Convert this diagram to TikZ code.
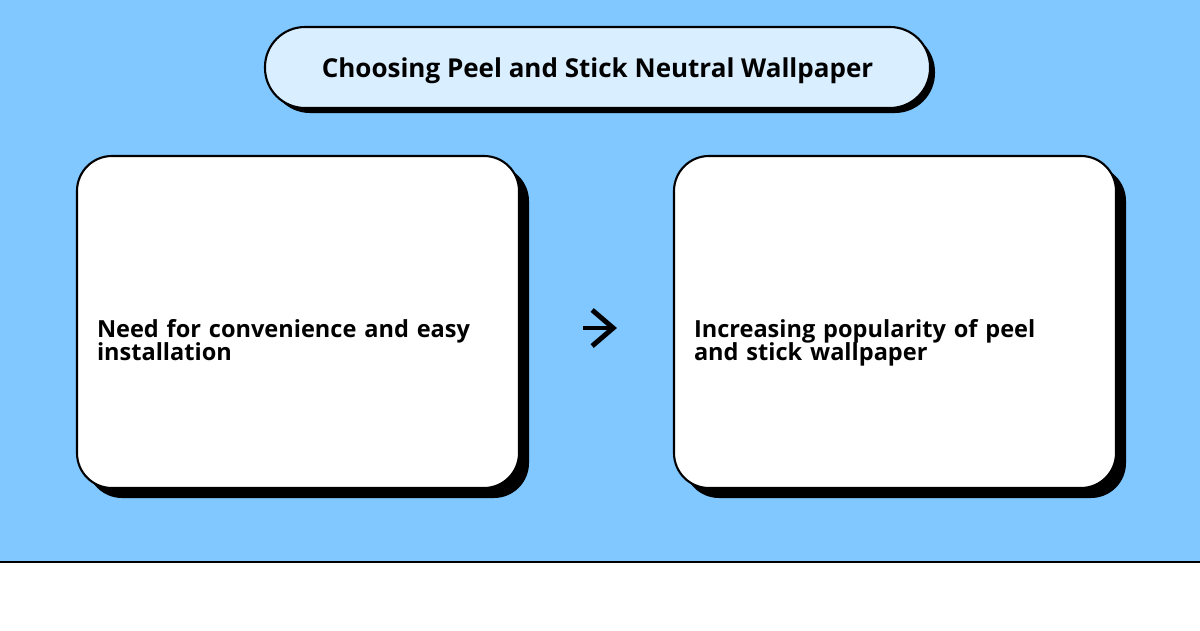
\documentclass[tikz,border=0pt]{standalone}
\usepackage{fontspec}
\setmainfont{Open Sans}
\usetikzlibrary{shadows}
\usetikzlibrary{arrows.meta}
\definecolor{skyblue}{RGB}{128,200,255}
\definecolor{paleblue}{RGB}{217,238,255}
\tikzset{%
  titlebox/.style={draw=black, line width=1.2pt, fill=paleblue, rounded corners=0.8cm,
    minimum width=13.3cm, minimum height=1.62cm, text height=1.11em, text depth=0pt,
    font=\fontsize{14.8}{15}\selectfont\bfseries,
    drop shadow={shadow xshift=0.1cm, shadow yshift=-0.1cm, fill=black, opacity=1}},
  stepbox/.style={draw=black, line width=1.2pt, fill=white, rounded corners=0.7cm,
    minimum width=8.84cm, minimum height=6.64cm, text width=8.04cm, inner xsep=0.4cm,
    text depth=0pt, align=left, font=\fontsize{13.4}{13.6}\selectfont\bfseries,
    execute at begin node={\baselineskip=13.6pt\relax\lineskiplimit=-20pt\relax
      \lineskip=0pt\relax\rule{0pt}{0.6cm}},
    drop shadow={shadow xshift=0.2cm, shadow yshift=-0.2cm, fill=black, opacity=1}},
  myedge/.style={-{Straight Barb[length=0.42cm, width=0.72cm]}, line width=2.8pt,
    shorten <=1.26cm, shorten >=1.12cm}
}

\begin{document}
\begin{tikzpicture}
\useasboundingbox (0,0) rectangle (24,12.6);

% background
\fill [skyblue] (0,1.36) rectangle (24,12.6);
\draw [line width=1.2pt] (0,1.36) -- (24,1.36);

\node [titlebox] (title) at (11.95,11.25) {Choosing Peel and Stick Neutral Wallpaper};

\node [stepbox] (need) at (5.96,6.16) {Need for convenience and easy installation};
\node [stepbox] (trend) at (17.9,6.16) {Increasing popularity of peel\\and stick wallpaper};

% arrow
\draw [myedge] ([yshift=-0.12cm]need.east) -- ([yshift=-0.12cm]trend.west);
\end{tikzpicture}
\end{document}
